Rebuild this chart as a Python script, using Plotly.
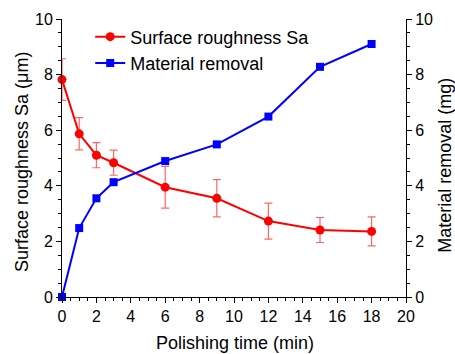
import plotly.graph_objects as go

time_min = [0, 1, 2, 3, 6, 9, 12, 15, 18]
roughness_sa = [7.82, 5.87, 5.10, 4.83, 3.95, 3.55, 2.73, 2.41, 2.36]
roughness_err = [0.75, 0.58, 0.45, 0.45, 0.75, 0.67, 0.65, 0.45, 0.52]
material_removal = [0.0, 2.48, 3.55, 4.13, 4.89, 5.49, 6.49, 8.28, 9.10]

tick_font = dict(family="Liberation Sans, Arial", size=16, color="black")
title_font = dict(family="Liberation Sans, Arial", size=18, color="black")

fig = go.Figure()
fig.add_trace(go.Scatter(
    x=time_min, y=roughness_sa, name="Surface roughness Sa",
    mode="lines+markers", line=dict(color="#ff0000", width=2),
    marker=dict(symbol="circle", size=9, color="#ff0000"),
    error_y=dict(type="data", array=roughness_err, color="rgba(255,0,0,0.6)", thickness=1.2, width=4),
    cliponaxis=False, yaxis="y"))
fig.add_trace(go.Scatter(
    x=time_min, y=material_removal, name="Material removal",
    mode="lines+markers", line=dict(color="#0000ff", width=2),
    marker=dict(symbol="square", size=8, color="#0000ff"),
    cliponaxis=False, yaxis="y2"))

axis_common = dict(showline=True, linecolor="black", linewidth=1, ticks="outside",
                   ticklen=5, tickwidth=1, tickcolor="black", showgrid=False, zeroline=False,
                   automargin=False,
                   tickfont=tick_font, minor=dict(ticks="outside", ticklen=3, tickcolor="black"))

fig.update_layout(
    width=455, height=354, margin=dict(l=62, r=49, t=19, b=57, autoexpand=False),
    paper_bgcolor="white", plot_bgcolor="white", font=tick_font,
    xaxis=dict(range=[0, 20], dtick=2, **axis_common),
    yaxis=dict(range=[0, 10], dtick=2, **axis_common),
    yaxis2=dict(range=[0, 10], dtick=2, overlaying="y", side="right", anchor="x", **axis_common),
    legend=dict(x=0.082, y=1.002, xanchor="left", yanchor="top", bgcolor="rgba(0,0,0,0)",
                font=title_font, tracegroupgap=0),
    showlegend=True,
    annotations=[
        dict(text="Polishing time (min)", xref="paper", yref="paper", x=0.503, y=-0.165,
             xanchor="center", yanchor="middle", showarrow=False, font=title_font),
        dict(text="Surface roughness Sa (μm)", xref="paper", yref="paper", x=-0.116, y=0.486,
             xanchor="center", yanchor="middle", showarrow=False, font=title_font, textangle=-90),
        dict(text="Material removal (mg)", xref="paper", yref="paper", x=1.113, y=0.475,
             xanchor="center", yanchor="middle", showarrow=False, font=title_font, textangle=-90),
    ],
)

fig.write_html("out.html", config={"displayModeBar": False},
               post_script="document.body.style.margin='0';document.body.style.padding='0';")
